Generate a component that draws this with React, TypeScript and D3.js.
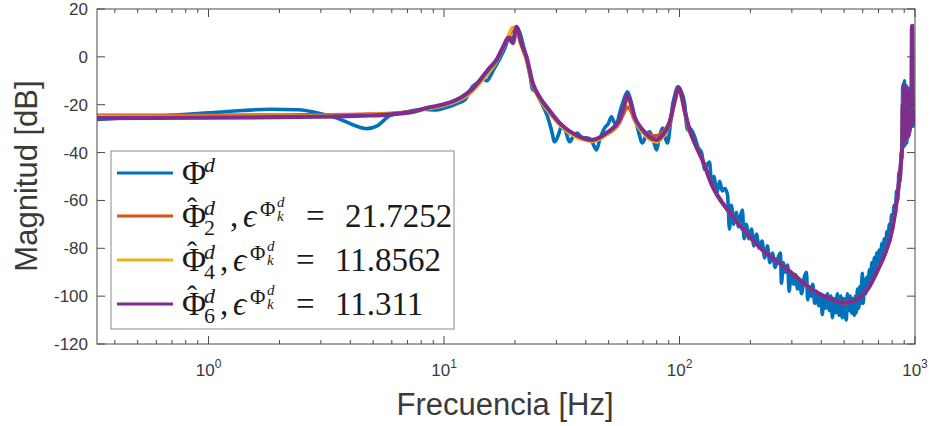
import React from "react";
import * as d3 from "d3";

type Pt = [number, number];

// Measured response Φ^d  [Hz, dB]
const measured: Pt[] = [
  [0.336, -26.2], [0.5, -25.2], [0.7, -24.4], [1, -23.4], [1.4, -22.4], [1.82, -21.9], [2.4, -22.1],
  [3.06, -24], [3.6, -26], [4.2, -28.8], [4.7, -30], [5.2, -28.8], [5.89, -24.6], [6.95, -23],
  [8.12, -21.9], [9.31, -22.2], [10.2, -21.2], [11.3, -19.6], [12.3, -17.8], [13.2, -12.5], [13.8, -11],
  [14.6, -9], [15.2, -10], [16.1, -6], [17.2, -1], [18.1, 3.5], [19, 8.5], [19.6, 7], [20.3, 12],
  [21, 10], [21.8, 4], [22.4, -1], [23.2, -8], [23.8, -13.8], [24.5, -14.5], [25.5, -18], [27.3, -24],
  [28.5, -30], [29.5, -35.5], [30.5, -33], [31.6, -29], [32.8, -31], [34.1, -35.5], [35.5, -33],
  [36.9, -31.8], [38.5, -34], [40.3, -33.8], [42.3, -35], [44.4, -38.9], [46, -34], [48.1, -29.7],
  [49.8, -28], [51.4, -25], [52.6, -27], [54, -28.4], [55.5, -24], [57.5, -19], [60.1, -14.6],
  [62, -18], [64.4, -25], [66.5, -30], [69.6, -36], [72, -33], [74.6, -31.3], [77, -34], [79.9, -38.9],
  [82, -34], [84.7, -29.7], [86.5, -33], [88.9, -36], [91.5, -28], [93.5, -20], [95.2, -16.7],
  [98.1, -12.5], [101, -14], [105, -19.2], [108, -30.5], [111, -30], [116, -33.4], [120, -38],
  [124, -40], [128, -47], [131, -45], [134, -44], [137, -53], [140, -50], [144, -57], [148, -52],
  [152, -56], [156, -55], [160, -58], [163, -72], [166, -62], [170, -70], [174, -65], [178, -71],
  [182, -66], [185, -64], [188, -76], [192, -70], [197, -76], [202, -72], [207, -79], [212, -74],
  [218, -80], [224, -77], [230, -84], [236, -79], [242, -86], [248, -82], [255, -88], [262, -84],
  [268, -82], [271, -94.6], [276, -86], [282, -90], [288, -87], [292, -98], [298, -90], [305, -95],
  [311, -91], [317, -97], [323, -93], [330, -99], [337, -93], [346, -90], [350, -101.5], [356, -96],
  [362, -100], [368, -95], [375, -103], [382, -98], [390, -104], [398, -99], [404, -107.7], [410, -100],
  [418, -105], [425, -99], [433, -106], [440, -100], [446, -109], [452, -101], [460, -107], [468, -99],
  [476, -108], [484, -100], [491, -109], [498, -101], [505, -108], [511, -110], [516, -99], [522, -106],
  [530, -100], [538, -107], [545, -101], [552, -108], [558, -100], [563, -107], [570, -97], [577, -105],
  [583, -96], [590, -103], [597, -90.5], [603, -103], [610, -93], [617, -99], [625, -92], [633, -97],
  [640, -89], [648, -94], [656, -86], [664, -91], [672, -84], [680, -89], [688, -82], [697, -86],
  [705, -80.7], [714, -85], [723, -78], [732, -82], [741, -76], [750, -80], [760, -73], [770, -77],
  [778, -70], [786, -74], [795, -66], [805, -70], [815, -62], [825, -66], [835, -56], [845, -60],
  [855, -48], [865, -52], [874, -40], [880, -42], [883, -30], [887, -12], [890, -38], [894, -11],
  [898, -36], [902, -10], [906, -37], [910, -14], [914, -35], [918, -12], [923, -36], [928, -15],
  [933, -34], [938, -13], [943, -33], [948, -16], [953, -31], [958, -18], [963, -29], [967, -22],
  [970, 10], [973, 11], [976, -24], [981, -29], [986, -25], [993, -27],
];

// Shared high-frequency portion of the fitted models  [Hz, dB]
const fitTail: Pt[] = [
  [116, -36], [125, -43], [138, -54], [163, -65], [192, -73.6], [225, -80.7], [265, -86], [313, -92],
  [367, -97.4], [433, -101], [491, -102.8], [563, -101.5], [640, -96], [705, -87.7], [741, -83],
  [801, -72], [841, -58.5], [874, -43], [883, -36], [887, -20], [890, -35], [894, -14], [898, -34],
  [902, -12], [906, -35], [910, -13], [914, -33], [918, -15], [923, -34], [928, -14], [933, -33],
  [938, -16], [943, -32], [948, -15], [953, -30], [958, -17], [963, -28], [967, -20], [970, 12],
  [973, 13], [976, -22], [981, -27], [986, -23], [993, -25],
];

// Fit, order 2
const fit2Head: Pt[] = [
  [0.336, -24.4], [1, -24.4], [2, -24.3], [3, -24.2], [4.5, -24], [6, -23.6], [7.5, -22.6],
  [8.44, -21.5], [10, -20], [11.7, -17.6], [13, -14.5], [14.2, -10.5], [15.5, -6], [16.7, -1.5],
  [17.8, 3.5], [18.8, 8.5], [19.8, 11.5], [20.5, 10], [21.4, 5], [22.4, -1], [23.8, -11],
  [25.5, -17], [27.3, -21], [31, -27.7], [37.6, -33.6], [42.7, -34.8], [49, -32.5], [55.6, -27.5],
  [58, -23.5], [60.1, -21], [62, -22.3], [64.4, -26.5], [69.6, -30.5], [74.6, -32.6], [79.9, -33],
  [85, -31.5], [90.7, -27], [95, -19.5], [99, -13.5], [102, -16.5], [105, -22.5], [110, -30],
];

// Fit, order 4
const fit4Head: Pt[] = [
  [0.336, -24.9], [1, -24.9], [2, -24.8], [3, -24.6], [4.5, -24.3], [6, -23.8], [7.5, -22.8],
  [8.44, -21.7], [10, -20.3], [11.7, -17.9], [13, -15], [14.2, -11], [15.5, -6.5], [16.7, -2],
  [17.8, 3.5], [18.8, 9], [19.6, 12.4], [20.3, 10], [21.4, 4], [22.4, -1.5], [23.8, -12],
  [25.5, -18], [27.3, -22], [31, -28.5], [37.6, -34.2], [42.7, -35.3], [49, -32.5], [55.6, -26.8],
  [58, -21.5], [60.1, -17.5], [62, -20], [64.4, -26], [69.6, -31.5], [74.6, -34.5], [79.9, -35.5],
  [85, -33.5], [90.7, -28.5], [95, -20], [99, -14], [102, -17], [105, -23], [110, -31],
];

// Fit, order 6
const fit6Head: Pt[] = [
  [0.336, -25.6], [1, -25.4], [2, -25.2], [3, -25], [4.5, -24.6], [6, -24], [7.5, -22.8],
  [8.44, -21.4], [10, -19.8], [11.7, -17.2], [13, -14], [14.2, -9.8], [15.5, -5], [16.7, -1.3],
  [17.8, 4], [18.8, 8], [19.6, 5.8], [20.3, 12.5], [21.4, 5], [22.4, 0], [23.8, -11], [25.5, -17],
  [27.3, -21], [31, -27.7], [37.6, -33.3], [42.7, -34.7], [49, -31.8], [55.6, -26.3], [58, -21],
  [60.1, -16], [62, -19], [64.4, -25], [69.6, -30.5], [74.6, -33.5], [79.9, -34.7], [85, -32.5],
  [90.7, -27.7], [95, -19], [99, -12.7], [102, -16], [105, -22], [110, -30],
];

const yTicks = [20, 0, -20, -40, -60, -80, -100, -120];
const xDecades = [0, 1, 2, 3];
const legendValues = ["", "21.7252", "11.8562", "11.311"];
const legendOrders = ["", "2", "4", "6"];
const seriesColors = ["#0072BD", "#D95319", "#EDB120", "#7E2F8E"];

export default function App() {
  const W = 930;
  const H = 426;
  const left = 97, right = 915, top = 9, bottom = 344;
  const x = d3.scaleLog().domain([0.336, 1000]).range([left, right]);
  const y = d3.scaleLinear().domain([-120, 20]).range([bottom, top]);
  const line = d3
    .line<Pt>()
    .x((d) => x(d[0]))
    .y((d) => y(d[1]))
    .curve(d3.curveMonotoneX);

  const series: { data: Pt[]; color: string; w: number }[] = [
    { data: measured, color: seriesColors[0], w: 3.6 },
    { data: [...fit2Head, ...fitTail], color: seriesColors[1], w: 3.6 },
    { data: [...fit4Head, ...fitTail], color: seriesColors[2], w: 3.6 },
    { data: [...fit6Head, ...fitTail], color: seriesColors[3], w: 4.2 },
  ];

  const [d0, d1] = x.domain();
  const majors: number[] = [];
  const minors: number[] = [];
  for (let e = -1; e <= 3; e++) {
    for (let m = 1; m <= 9; m++) {
      const v = m * Math.pow(10, e);
      if (v < d0 || v > d1 * 1.0001) continue;
      if (m === 1) majors.push(v);
      else minors.push(v);
    }
  }

  const axisColor = "#4a4a4a";
  const textColor = "#3a3a3a";
  const sans = "'Liberation Sans', Arial, Helvetica, sans-serif";
  const serif = "'Liberation Serif', 'Times New Roman', serif";
  const majorLen = 8;
  const minorLen = 4;

  const legendRowY = [173, 216, 260, 304];
  const legX0 = 117, legX1 = 173;

  return (
    <svg
      width={W}
      height={H}
      style={{ position: "absolute", left: 0, top: 0, background: "#fff" }}
    >
      <rect x={0} y={0} width={W} height={H} fill="#fff" />
      <defs>
        <clipPath id="plotclip">
          <rect x={left} y={top} width={right - left} height={bottom - top} />
        </clipPath>
      </defs>

      {/* series */}
      <g clipPath="url(#plotclip)" fill="none" strokeLinejoin="round" strokeLinecap="round">
        {series.map((s, i) => (
          <path key={i} d={line(s.data) || ""} stroke={s.color} strokeWidth={s.w} />
        ))}
      </g>

      {/* axes box */}
      <rect x={left} y={top} width={right - left} height={bottom - top} fill="none" stroke={axisColor} strokeWidth={1} />

      {/* ticks */}
      <g stroke={axisColor} strokeWidth={1}>
        {majors.map((v) => (
          <g key={"M" + v}>
            <line x1={x(v)} x2={x(v)} y1={bottom} y2={bottom - majorLen} />
            <line x1={x(v)} x2={x(v)} y1={top} y2={top + majorLen} />
          </g>
        ))}
        {minors.map((v) => (
          <g key={"m" + v}>
            <line x1={x(v)} x2={x(v)} y1={bottom} y2={bottom - minorLen} />
            <line x1={x(v)} x2={x(v)} y1={top} y2={top + minorLen} />
          </g>
        ))}
        {yTicks.map((v) => (
          <g key={"y" + v}>
            <line x1={left} x2={left + majorLen} y1={y(v)} y2={y(v)} />
            <line x1={right} x2={right - majorLen} y1={y(v)} y2={y(v)} />
          </g>
        ))}
      </g>

      {/* tick labels */}
      <g fill={textColor} fontFamily={sans} fontSize={17}>
        {xDecades.map((e) => (
          <text key={e} x={x(Math.pow(10, e))} y={376} textAnchor="middle">
            10
            <tspan fontSize={12} dy={-8}>
              {String(e)}
            </tspan>
          </text>
        ))}
        {yTicks.map((v) => (
          <text key={v} x={88} y={y(v) + 6} textAnchor="end">
            {String(v)}
          </text>
        ))}
      </g>

      {/* axis labels */}
      <text x={505} y={415} textAnchor="middle" fontFamily={sans} fontSize={31} fill={textColor}>
        Frecuencia [Hz]
      </text>
      <text
        transform={`translate(37,176) rotate(-90)`}
        textAnchor="middle"
        fontFamily={sans}
        fontSize={31}
        fill={textColor}
      >
        Magnitud [dB]
      </text>

      {/* legend */}
      <rect x={111} y={151} width={343} height={178} fill="#fff" stroke="#8a8a8a" strokeWidth={1} />
      {legendRowY.map((ly, i) => {
        const b = ly + 11;
        const sh = i === 1 ? 10 : 0;
        const isFit = i > 0;
        return (
          <g key={i} fill="#1a1a1a" fontFamily={serif}>
            <line x1={legX0} x2={legX1} y1={ly} y2={ly} stroke={seriesColors[i]} strokeWidth={3.2} />
            <text x={182} y={b} fontSize={33}>Φ</text>
            {isFit && (
              <text x={192} y={b - 9} fontSize={30} textAnchor="middle">ˆ</text>
            )}
            <text x={204} y={b - 12} fontSize={22} fontStyle="italic">d</text>
            {isFit && (
              <>
                <text x={204} y={b + 8} fontSize={22}>{legendOrders[i]}</text>
                <text x={220 + sh} y={b} fontSize={33}>,</text>
                <text x={233 + sh} y={b} fontSize={33} fontStyle="italic">ϵ</text>
                <text x={250 + sh} y={b - 11} fontSize={21}>Φ</text>
                <text x={267 + sh} y={b - 6} fontSize={15} fontStyle="italic">k</text>
                <text x={267 + sh} y={b - 20} fontSize={15} fontStyle="italic">d</text>
                <text x={296 + sh} y={b} fontSize={33}>=</text>
                <text x={335 + sh} y={b} fontSize={33}>{legendValues[i]}</text>
              </>
            )}
          </g>
        );
      })}
    </svg>
  );
}
